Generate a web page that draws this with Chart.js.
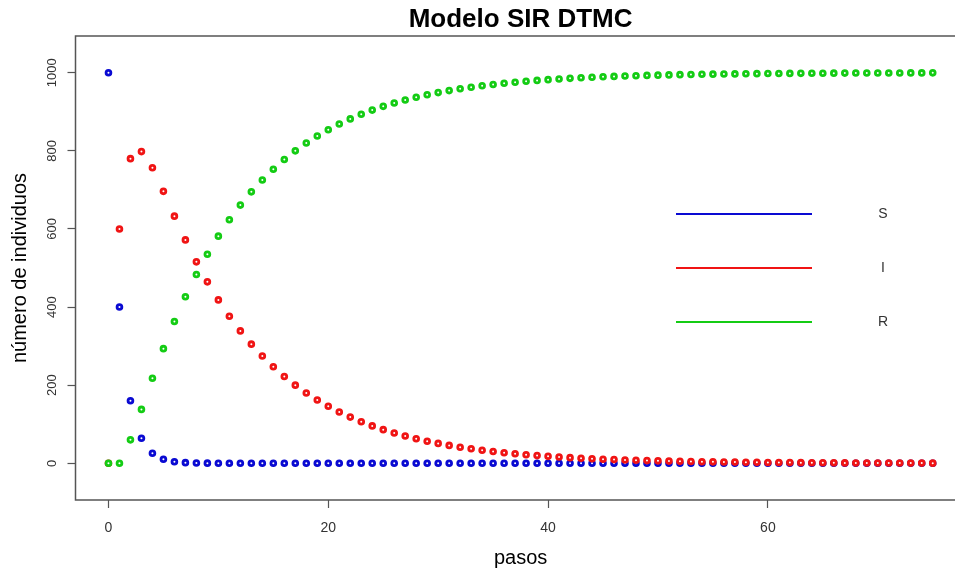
<!DOCTYPE html>
<html>
<head>
<meta charset="utf-8">
<script src="https://cdn.jsdelivr.net/npm/chart.js@4/dist/chart.umd.min.js"></script>
<style>
  html, body { margin: 0; padding: 0; background: #fff; overflow: hidden; }
  #wrap { width: 980px; height: 574px; }
</style>
</head>
<body>
<div id="wrap"><canvas id="sirChart" width="980" height="574"></canvas></div>
<script>
// pasos 0..75
const pasos = [0,1,2,3,4,5,6,7,8,9,10,11,12,13,14,15,16,17,18,19,
  20,21,22,23,24,25,26,27,28,29,30,31,32,33,34,35,36,37,38,39,
  40,41,42,43,44,45,46,47,48,49,50,51,52,53,54,55,56,57,58,59,
  60,61,62,63,64,65,66,67,68,69,70,71,72,73,74,75];

const susceptibles = [1000,400,160,64,25.6,10.2,4.1,1.6,0.7,0.3,
  0.1,0,0,0,0,0,0,0,0,0, 0,0,0,0,0,0,0,0,0,0, 0,0,0,0,0,0,0,0,0,0,
  0,0,0,0,0,0,0,0,0,0, 0,0,0,0,0,0,0,0,0,0, 0,0,0,0,0,0,0,0,0,0, 0,0,0,0,0,0];

const infectados = [0,600,780,798,756.6,696.3,632.8,572.0,515.8,464.6,
  418.3,376.5,338.9,305.0,274.5,247.0,222.3,200.1,180.1,162.1,
  145.9,131.3,118.2,106.4,95.7,86.1,77.5,69.8,62.8,56.5,
  50.9,45.8,41.2,37.1,33.4,30.0,27.0,24.3,21.9,19.7,
  17.7,16.0,14.4,12.9,11.6,10.5,9.4,8.5,7.6,6.9,
  6.2,5.6,5.0,4.5,4.1,3.7,3.3,3.0,2.7,2.4,
  2.2,1.9,1.7,1.6,1.4,1.3,1.1,1.0,0.9,0.8,
  0.8,0.7,0.6,0.5,0.5,0.4];

const recuperados = [0,0,60,138,217.8,293.5,363.1,426.4,483.5,535.1,
  581.6,623.5,661.1,695.0,725.5,753.0,777.7,799.9,819.9,837.9,
  854.1,868.7,881.8,893.6,904.3,913.9,922.5,930.2,937.2,943.5,
  949.1,954.2,958.8,962.9,966.6,970.0,973.0,975.7,978.1,980.3,
  982.3,984.0,985.6,987.1,988.4,989.5,990.6,991.5,992.4,993.1,
  993.8,994.4,995.0,995.5,995.9,996.3,996.7,997.0,997.3,997.6,
  997.8,998.1,998.3,998.4,998.6,998.7,998.9,999.0,999.1,999.2,
  999.2,999.3,999.4,999.5,999.5,999.6];

const xTicks = [0, 20, 40, 60];
const yTicks = [0, 200, 400, 600, 800, 1000];
const etiquetas = ['S', 'I', 'R'];

const BLUE = '#0a0ad2', RED = '#f01414', GREEN = '#14cc14';
const FONT = "'Liberation Sans', Arial, sans-serif";
const TXT = '#333';

function serie(ys){
    return pasos.map((p, i) => ({ x: p, y: ys[i] }));
}
function puntos(label, ys, color, order){
    return {
        label: label, data: serie(ys), order: order,
        showLine: false,
        pointRadius: 2.4, pointHoverRadius: 2.4,
        pointBorderWidth: 2.8,
        pointBorderColor: color, pointBackgroundColor: '#fff',
        borderColor: color, backgroundColor: color
    };
}

// box, rotated y labels, title and legend (R base look)
const rPlot = {
    id: 'rPlot',
    afterDraw(chart){
        const c = chart.ctx, a = chart.chartArea, ys = chart.scales.y;
        c.save();
        c.strokeStyle = '#555';
        c.lineWidth = 1.5;
        c.strokeRect(a.left, a.top, a.right - a.left, a.bottom - a.top);

        c.fillStyle = TXT;
        c.font = '13px ' + FONT;
        c.textAlign = 'center';
        c.textBaseline = 'middle';
        yTicks.forEach(v => {
            c.save();
            c.translate(52, ys.getPixelForValue(v));
            c.rotate(-Math.PI / 2);
            c.fillText(String(v), 0, 0);
            c.restore();
        });

        c.fillStyle = '#000';
        c.font = 'bold 26px ' + FONT;
        c.fillText('Modelo SIR DTMC', (a.left + a.right) / 2, 20);

        const cols = [BLUE, RED, GREEN];
        c.font = '14px ' + FONT;
        c.fillStyle = TXT;
        etiquetas.forEach((t, i) => {
            const yy = 214 + i * 54;
            c.strokeStyle = cols[i];
            c.lineWidth = 2;
            c.beginPath();
            c.moveTo(676, yy);
            c.lineTo(812, yy);
            c.stroke();
            c.fillText(t, 883, yy);
        });
        c.restore();
    }
};

const ctx = document.getElementById('sirChart');
new Chart(ctx, {
    type: 'scatter',
    data: {
        datasets: [
            puntos('S', susceptibles, BLUE, 3),
            puntos('I', infectados, RED, 2),
            puntos('R', recuperados, GREEN, 1)
        ]
    },
    options: {
        responsive: false,
        animation: false,
        devicePixelRatio: 1,
        layout: { padding: { top: 36, right: 14.3, left: 0, bottom: 0 } },
        plugins: { legend: { display: false }, tooltip: { enabled: false }, title: { display: false } },
        scales: {
            x: {
                type: 'linear', min: -3, max: 78,
                afterBuildTicks: s => { s.ticks = xTicks.map(v => ({ value: v })); },
                afterFit: s => { s.height = 74; },
                grid: { drawOnChartArea: false, drawTicks: true, tickLength: 8, color: '#555', tickWidth: 1.2 },
                border: { display: false },
                ticks: { color: TXT, font: { size: 14, family: FONT }, padding: 12, maxRotation: 0 },
                title: { display: true, text: 'pasos', color: '#000', font: { size: 20, family: FONT }, padding: { top: 0, bottom: 4 } }
            },
            y: {
                type: 'linear', min: -94, max: 1094,
                afterBuildTicks: s => { s.ticks = yTicks.map(v => ({ value: v })); },
                afterFit: s => { s.width = 75.5; },
                grid: { drawOnChartArea: false, drawTicks: true, tickLength: 8, color: '#555', tickWidth: 1.2 },
                border: { display: false },
                ticks: { display: false },
                title: { display: true, text: 'número de individuos', color: '#000', font: { size: 20, family: FONT }, padding: { top: 8, bottom: 0 } }
            }
        }
    },
    plugins: [rPlot]
});
</script>
</body>
</html>
